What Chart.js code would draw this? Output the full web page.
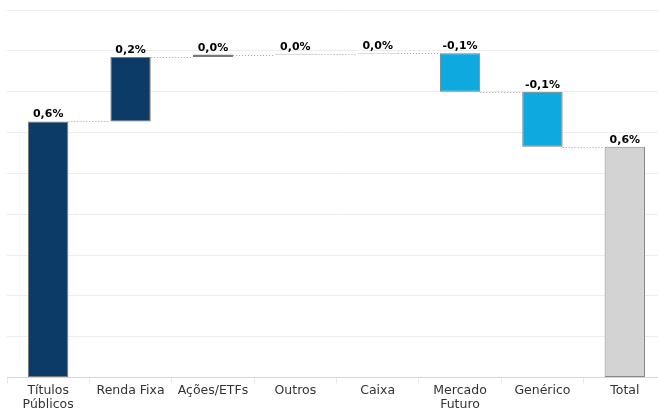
<!DOCTYPE html>
<html>
<head>
<meta charset="utf-8">
<script src="https://cdn.jsdelivr.net/npm/chart.js@4"></script>
<style>
html,body{margin:0;padding:0;background:#fff;}
#wrap{width:658px;height:408px;overflow:hidden;position:relative;}
canvas{display:block;}
</style>
</head>
<body>
<div id="wrap"><canvas id="c" width="666" height="408"></canvas></div>
<script>
// Data (in %)
const categories = [["Títulos","Públicos"],"Renda Fixa","Ações/ETFs","Outros","Caixa",["Mercado","Futuro"],"Genérico","Total"];
const contributions = [0.627, 0.158, 0.006, 0.002, 0.001, -0.094, -0.135];
const totalValue = 0.565;
const labelTexts = ["0,6%","0,2%","0,0%","0,0%","0,0%","-0,1%","-0,1%","0,6%"];
const yTicks = [0,0.1,0.2,0.3,0.4,0.5,0.6,0.7,0.8,0.9];

const NAVY = '#0b3b66', CYAN = '#0eaadf', GREY = '#d3d3d3';

// build floating ranges for waterfall
const ranges = [];
let run = 0;
contributions.forEach(v => { ranges.push([run, run + v]); run += v; });
ranges.push([0, totalValue]);
const colors = contributions.map(v => v >= 0 ? NAVY : CYAN).concat([GREY]);
const borders = contributions.map(v => '#7a7a7a').concat(['#888888']);

const connectorPlugin = {
  id: 'connectors',
  afterDatasetsDraw(chart) {
    const ctx = chart.ctx;
    const meta = chart.getDatasetMeta(0);
    const y = chart.scales.y;
    ctx.save();
    ctx.strokeStyle = '#a0a0a0';
    ctx.lineWidth = 1;
    ctx.setLineDash([1, 2]);
    for (let i = 0; i < ranges.length - 1; i++) {
      const level = ranges[i][1];
      const py = Math.round(y.getPixelForValue(level)) + 0.5;
      const a = meta.data[i], b = meta.data[i + 1];
      const x0 = a.x + a.width / 2, x1 = b.x - b.width / 2;
      ctx.beginPath();
      ctx.moveTo(x0, py);
      ctx.lineTo(x1, py);
      ctx.stroke();
    }
    ctx.restore();
  }
};

const labelPlugin = {
  id: 'barLabels',
  afterDatasetsDraw(chart) {
    const ctx = chart.ctx;
    const meta = chart.getDatasetMeta(0);
    const y = chart.scales.y;
    ctx.save();
    ctx.font = 'bold 11px "DejaVu Sans"';
    ctx.fillStyle = '#000';
    ctx.textAlign = 'center';
    ctx.textBaseline = 'alphabetic';
    meta.data.forEach((bar, i) => {
      const top = Math.max(ranges[i][0], ranges[i][1]);
      const py = y.getPixelForValue(top);
      ctx.fillText(labelTexts[i], bar.x, py - 4);
    });
    ctx.restore();
  }
};

new Chart(document.getElementById('c'), {
  type: 'bar',
  data: {
    labels: categories,
    datasets: [{
      data: ranges,
      backgroundColor: colors,
      borderColor: borders,
      borderWidth: 1,
      borderSkipped: false,
      categoryPercentage: 1,
      barPercentage: 0.49
    }]
  },
  options: {
    responsive: false,
    animation: false,
    devicePixelRatio: 1,
    layout: { padding: { left: 7, right: 0, top: 10, bottom: -3.5 } },
    plugins: { legend: { display: false }, tooltip: { enabled: false } },
    scales: {
      x: {
        offset: true,
        grid: { display: true, offset: true, drawOnChartArea: false, drawTicks: true, tickLength: 6, color: '#e3e8f3' },
        border: { display: true, color: '#ccd6eb', width: 1 },
        ticks: { color: '#333', font: { family: 'DejaVu Sans', size: 12.5, lineHeight: 1.12 }, padding: 0, maxRotation: 0, autoSkip: false }
      },
      y: {
        min: 0, max: 0.9,
        afterBuildTicks(scale) { scale.ticks = yTicks.map(v => ({ value: v })); },
        grid: { color: '#ececec', drawTicks: false },
        border: { display: false },
        ticks: { display: false }
      }
    }
  },
  plugins: [connectorPlugin, labelPlugin]
});
</script>
</body>
</html>
